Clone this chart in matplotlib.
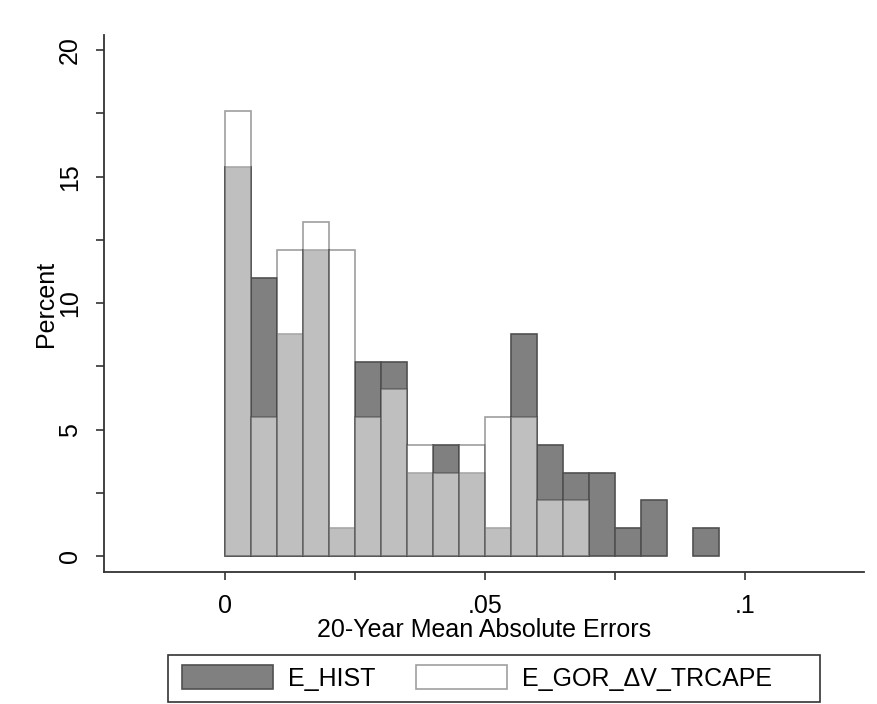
import numpy as np
import matplotlib
matplotlib.use('Agg')
import matplotlib.pyplot as plt
from matplotlib.patches import Patch, Rectangle

plt.rcParams['font.family'] = ['Liberation Sans', 'DejaVu Sans']

# histogram data (percent per bin), bins of width .005 starting at 0
bin_start = 0.0
bin_width = 0.005
e_hist = [15.38, 10.99, 8.79, 12.09, 1.10, 7.69, 7.69, 3.30, 4.40, 3.30,
          1.10, 8.79, 4.40, 3.30, 3.30, 1.10, 2.20, 0.0, 1.10]
e_gor = [17.58, 5.49, 12.09, 13.19, 12.09, 5.49, 6.59, 4.40, 3.30, 4.40,
         5.49, 5.49, 2.20, 2.20, 0.0, 0.0, 0.0, 0.0, 0.0]
labels = ['E_HIST', 'E_GOR_ΔV_TRCAPE']
xticks = [0, 0.05, 0.1]
xticklabels = ['0', '.05', '.1']
yticks = [0, 5, 10, 15, 20]

dark = '#808080'
fs = 18
W, H = 878, 704

fig = plt.figure(figsize=(W/100, H/100), dpi=100)
ax = fig.add_axes([104/W, 1 - 572/H, (864 - 104)/W, (572 - 35)/H])

lefts = bin_start + bin_width*np.arange(len(e_hist))
h = np.array(e_hist)
g = np.array(e_gor)
m = h > 0
ax.bar(lefts[m], h[m], width=bin_width, align='edge', color=dark,
       edgecolor='#505050', linewidth=1.2, zorder=2)
# white bars drawn semi-transparent on top -> overlap shows light grey
m = g > 0
ax.bar(lefts[m], g[m], width=bin_width, align='edge', color='white',
       edgecolor='#404040', linewidth=1.2, alpha=0.5, zorder=3)

ax.set_xlim(-0.0232, 0.1228)
ax.set_ylim(-0.63, 20.6)
ax.set_xticks(xticks)
ax.set_xticklabels(xticklabels)
ax.set_xticks([0.025, 0.075], minor=True)
ax.set_yticks(yticks)
ax.set_yticks([2.5, 7.5, 12.5, 17.5], minor=True)
for lab in ax.get_yticklabels():
    lab.set_rotation(90)
    lab.set_va('center')
ax.tick_params(which='both', direction='out', length=6, width=1.2,
               color='#333333', labelsize=fs, pad=10)
ax.spines['top'].set_visible(False)
ax.spines['right'].set_visible(False)
for s in ['left', 'bottom']:
    ax.spines[s].set_linewidth(1.3)
    ax.spines[s].set_color('#333333')

ax.set_xlabel('20-Year Mean Absolute Errors', fontsize=fs, labelpad=0)
ax.set_ylabel('Percent', fontsize=fs, labelpad=0)

# legend: frame drawn separately so the box can be wider than its entries
handles = [Patch(facecolor=dark, edgecolor='#505050', linewidth=1.2),
           Patch(facecolor='white', edgecolor='#a0a0a0', linewidth=1.2)]
leg = fig.legend(handles, labels, loc='center left',
                 bbox_to_anchor=(182/W, 1 - 678/H),
                 ncol=2, fontsize=fs, frameon=False,
                 handlelength=3.65, handleheight=1.05, columnspacing=1.6,
                 handletextpad=0.6, borderpad=0, borderaxespad=0)
fig.patches.append(Rectangle((168/W, 1 - 702/H), 652/W, 47/H,
                             transform=fig.transFigure, fill=False,
                             edgecolor='#333333', linewidth=1.2))

fig.savefig('out.png', dpi=100)
